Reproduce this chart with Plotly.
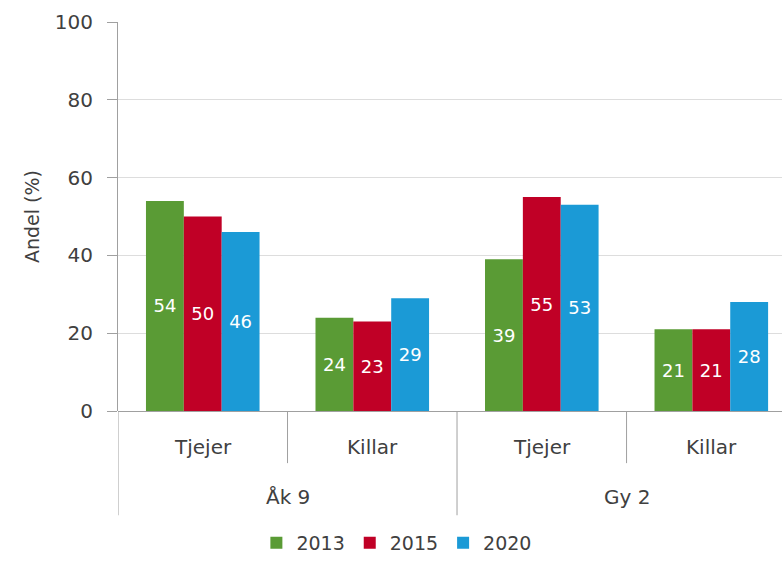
import plotly.graph_objects as go

groups = ["Åk 9", "Gy 2"]
categories = ["Tjejer", "Killar", "Tjejer", "Killar"]
years = ["2013", "2015", "2020"]
values_2013 = [54, 24, 39, 21]
values_2015 = [50, 23, 55, 21]
values_2020 = [46, 29, 53, 28]
y_ticks = [0, 20, 40, 60, 80, 100]

COLORS = ["#5A9B35", "#C00026", "#1B9AD6"]
FONT = "'DejaVu Sans', sans-serif"
TEXT_COLOR = "#404040"
LINE_COLOR = "#A0A0A0"

positions = list(range(len(categories)))

fig = go.Figure()
for year, vals, color in zip(years, [values_2013, values_2015, values_2020], COLORS):
    fig.add_trace(
        go.Bar(
            x=positions,
            y=vals,
            name=year,
            marker={"color": color, "line": {"width": 0}},
            text=[str(v) for v in vals],
            textposition="inside",
            insidetextanchor="middle",
            textangle=0,
            textfont={"color": "white", "size": 18, "family": FONT},
        )
    )

# category dividers and labels below the axis
shapes = []
annotations = []
sub_bottom = -0.134
grp_bottom = -0.268
shapes.append(dict(type="line", xref="x", yref="paper", x0=-0.5, x1=-0.5, y0=0, y1=grp_bottom,
                   line={"color": LINE_COLOR, "width": 1}))
for i, cat in enumerate(categories):
    annotations.append(dict(x=positions[i], y=-0.093, xref="x", yref="paper", yanchor="middle",
                            text=cat, showarrow=False,
                            font={"size": 20, "color": TEXT_COLOR, "family": FONT}))
    if i > 0:
        bottom = grp_bottom if i % 2 == 0 else sub_bottom
        shapes.append(dict(type="line", xref="x", yref="paper", x0=i - 0.5, x1=i - 0.5, y0=0, y1=bottom,
                           line={"color": LINE_COLOR, "width": 1}))
for g, grp in enumerate(groups):
    annotations.append(dict(x=2 * g + 0.5, y=-0.221, xref="x", yref="paper", yanchor="middle",
                            text=grp, showarrow=False,
                            font={"size": 20, "color": TEXT_COLOR, "family": FONT}))

fig.update_layout(
    width=782,
    height=563,
    margin={"l": 118, "r": 0, "t": 22, "b": 152},
    plot_bgcolor="white",
    paper_bgcolor="white",
    barmode="group",
    bargap=0.33,
    bargroupgap=0,
    font={"family": FONT, "color": TEXT_COLOR},
    showlegend=True,
    legend={
        "orientation": "h",
        "x": 0.42,
        "xanchor": "center",
        "y": -0.388,
        "yanchor": "bottom",
        "font": {"size": 19, "color": TEXT_COLOR, "family": FONT},
        "tracegroupgap": 0,
    },
    xaxis={
        "range": [-0.5, 3.417],
        "showticklabels": False,
        "showgrid": False,
        "zeroline": False,
        "showline": False,
        "ticks": "",
    },
    yaxis={
        "range": [0, 100],
        "tickvals": y_ticks,
        "tickfont": {"size": 20, "color": TEXT_COLOR},
        "showgrid": True,
        "gridcolor": "#DDDDDD",
        "gridwidth": 1,
        "showline": True,
        "linecolor": LINE_COLOR,
        "linewidth": 1,
        "ticks": "outside",
        "ticklen": 10,
        "tickcolor": LINE_COLOR,
        "ticklabelstandoff": 10,
        "zeroline": True,
        "zerolinecolor": LINE_COLOR,
        "zerolinewidth": 1,
        "title": {"text": "Andel (%)", "font": {"size": 19, "color": TEXT_COLOR}, "standoff": 10},
    },
    shapes=shapes,
    annotations=annotations,
    uniformtext={"minsize": 18, "mode": "show"},
)

# drop the default page margin so the figure fills the window exactly
fig.write_html(
    "out.html",
    config={"displayModeBar": False},
    post_script="document.body.style.margin = '0';",
)
